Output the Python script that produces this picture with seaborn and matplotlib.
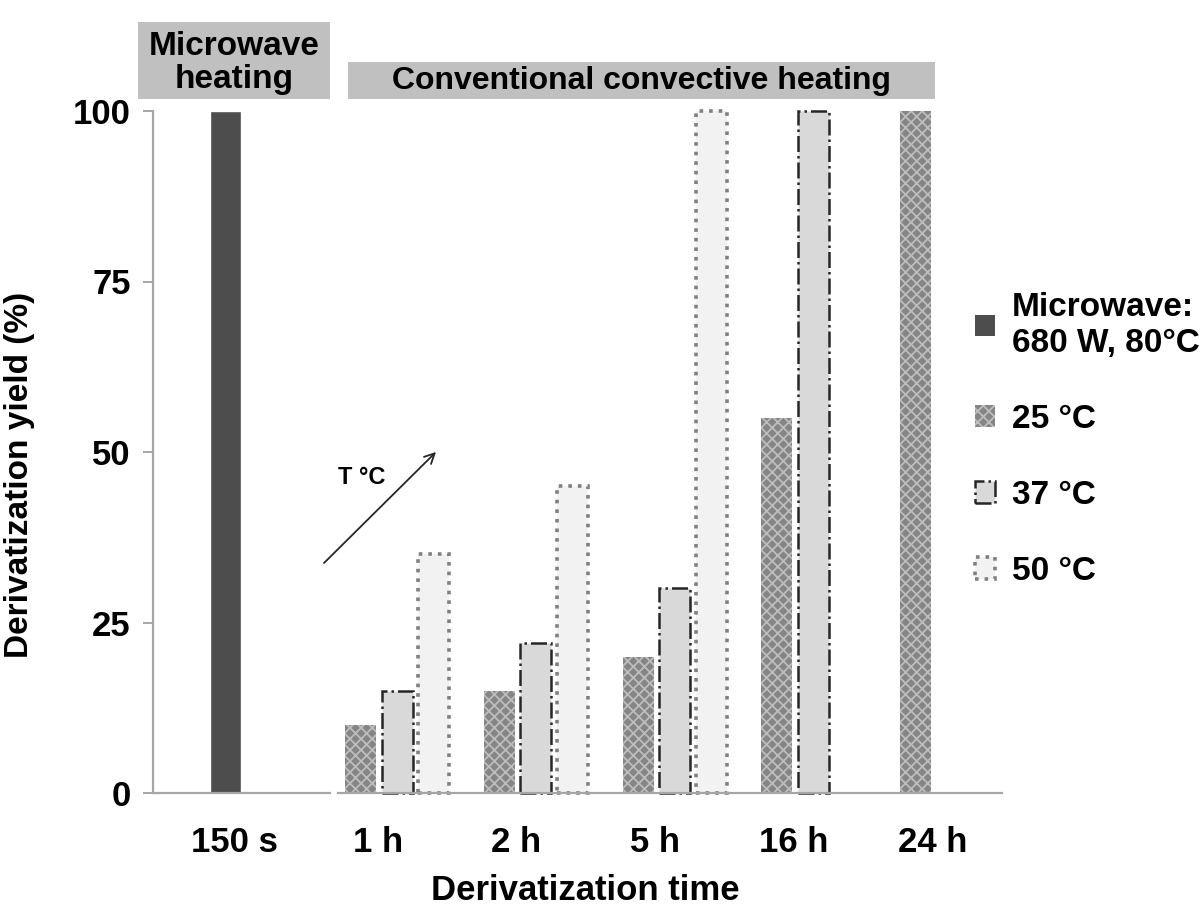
import numpy as np
import pandas as pd
import matplotlib.pyplot as plt
import seaborn as sns
from matplotlib.patches import Patch, Rectangle

# datos
microwave_time = ['150 s']
microwave_yield = [100]

times = ['1 h', '2 h', '5 h', '16 h', '24 h']
temps = ['25 °C', '37 °C', '50 °C']
yield_25 = [10, 15, 20, 55, 100]
yield_37 = [15, 22, 30, 100, np.nan]
yield_50 = [35, 45, 100, np.nan, np.nan]

df = pd.DataFrame({
    'time': times * 3,
    'temp': [t for t in temps for _ in times],
    'yield': yield_25 + yield_37 + yield_50,
})

sns.set_theme(style='white')
plt.rcParams['font.family'] = ['Liberation Sans', 'DejaVu Sans']
plt.rcParams['font.weight'] = 'bold'
plt.rcParams['hatch.linewidth'] = 1.3
plt.rcParams['text.color'] = 'black'
plt.rcParams['axes.labelcolor'] = 'black'
plt.rcParams['xtick.labelcolor'] = 'black'
plt.rcParams['ytick.labelcolor'] = 'black'

W, H = 1203, 910
fig = plt.figure(figsize=(W / 100, H / 100), dpi=100)
fig.patch.set_facecolor('white')

ax_mw = fig.add_axes([153 / W, 1 - 793 / H, 177 / W, 682 / H])
ax_cv = fig.add_axes([338 / W, 1 - 793 / H, 664 / W, 682 / H])

gris = '#a6a6a6'

# estilos de cada serie
estilos = {
    '25 °C': dict(facecolor='#858585', edgecolor='#bdbdbd', hatch='xxx', linewidth=0),
    '37 °C': dict(facecolor='#d9d9d9', edgecolor='#262626', linestyle='-.', linewidth=1.8),
    '50 °C': dict(facecolor='#f2f2f2', edgecolor='#808080', linestyle=':', linewidth=2.6),
}

# 1. Calentamiento por microondas
sns.barplot(x=microwave_time, y=microwave_yield, ax=ax_mw, color='#4d4d4d',
            width=0.175, saturation=1, errorbar=None)
ax_mw.set_xlim(-0.412, 0.588)

# 2. Calentamiento convectivo
sns.barplot(data=df, x='time', y='yield', hue='temp', order=times, hue_order=temps,
            width=0.79, gap=0.15, ax=ax_cv, legend=False, saturation=1, errorbar=None)
for cont, t in zip(ax_cv.containers, temps):
    for bar in cont:
        bar.set(**estilos[t])
        bar.set_clip_on(False)
ax_cv.set_xlim(-0.426, 4.36)

for ax in (ax_mw, ax_cv):
    ax.set_ylim(0, 100)
    ax.set_xlabel('')
    ax.set_ylabel('')
    for s in ['top', 'right']:
        ax.spines[s].set_visible(False)
    ax.spines['bottom'].set_color(gris)
    ax.spines['bottom'].set_linewidth(1.6)
    ax.tick_params(axis='x', length=0, pad=24, labelsize=25, labelcolor='black')

ax_mw.spines['left'].set_color(gris)
ax_mw.spines['left'].set_linewidth(1.6)
ax_mw.set_yticks([0, 25, 50, 75, 100])
ax_mw.tick_params(axis='y', left=True, length=7, width=1.4, color=gris, pad=9,
                  labelsize=25, labelcolor='black')
ax_mw.set_xticks([0.05], microwave_time)
ax_mw.set_ylabel('Derivatization yield (%)', fontsize=24, fontweight='bold', color='black')
ax_mw.yaxis.set_label_coords(-0.667, 0.466)

ax_cv.spines['left'].set_visible(False)
ax_cv.set_yticks([])
ax_cv.set_xticks(np.arange(len(times)) - 0.14, times)

fig.text(585 / W, 1 - 890 / H, 'Derivatization time', ha='center', va='center',
         fontsize=25, fontweight='bold')

# 3. Cajas de encabezado
fig.add_artist(Rectangle((138 / W, 1 - 99 / H), 192 / W, 77 / H, transform=fig.transFigure,
                         facecolor='#c0c0c0', edgecolor='none'))
fig.text(234 / W, 1 - 63 / H, 'Microwave\nheating', ha='center', va='center',
         fontsize=24, fontweight='bold', linespacing=1.12)
fig.add_artist(Rectangle((348 / W, 1 - 99 / H), 587 / W, 37 / H, transform=fig.transFigure,
                         facecolor='#c0c0c0', edgecolor='none'))
fig.text(641 / W, 1 - 81 / H, 'Conventional convective heating', ha='center', va='center',
         fontsize=23, fontweight='bold')

# 4. Flecha de temperatura
ax_cv.annotate('', xy=(438, H - 450), xytext=(322, H - 565), xycoords='figure pixels',
               textcoords='figure pixels',
               arrowprops=dict(arrowstyle='->', color='#262626', lw=1.3, mutation_scale=18))
fig.text(362 / W, 1 - 478 / H, 'T °C', ha='center', va='center', fontsize=17, fontweight='bold')

# 5. Leyenda
handles = [Patch(facecolor='#4d4d4d', edgecolor='none')]
for t in temps:
    handles.append(Patch(**estilos[t]))
labels = ['Microwave:\n680 W, 80°C'] + temps
fig.legend(handles, labels, loc='upper left', bbox_to_anchor=(975 / W, 1 - 292 / H),
           frameon=False, handlelength=0.6, handleheight=0.6,
           handletextpad=0.5, labelspacing=1.35, borderpad=0, borderaxespad=0,
           prop={'weight': 'bold', 'size': 24})

fig.savefig('out.png', dpi=100)
